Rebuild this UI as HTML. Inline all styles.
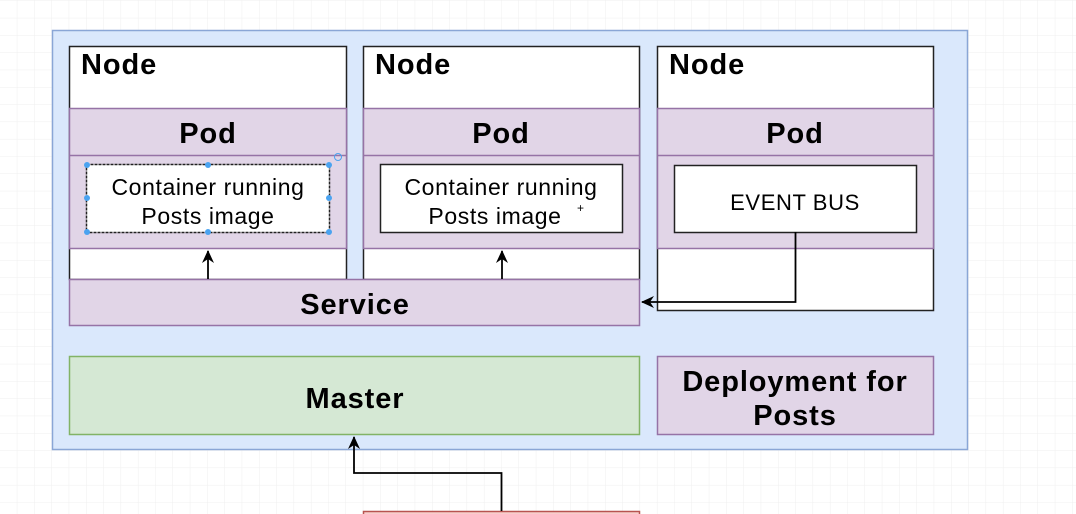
<!DOCTYPE html>
<html><head><meta charset="utf-8"><style>
html,body{margin:0;padding:0;background:#fff;}
svg{display:block;}
text{font-family:"Liberation Sans",Arial,sans-serif;fill:#000;}
.b{font-weight:bold;letter-spacing:0.9px;}
.n{letter-spacing:0.6px;}
</style></head><body>
<svg width="1076" height="514" viewBox="0 0 1076 514" xmlns="http://www.w3.org/2000/svg">
<defs>
<pattern id="g" width="17.3" height="17.3" patternUnits="userSpaceOnUse" x="0" y="1">
<path d="M17.3 0V17.3H0" fill="none" stroke="#efefef" stroke-width="1"/>
</pattern>
<marker id="ar" markerWidth="14" markerHeight="14" refX="12" refY="6" orient="auto" markerUnits="userSpaceOnUse">
<path d="M0,0 L13,6 L0,12 L4,6 Z" fill="#000"/>
</marker>
</defs>
<rect width="1076" height="514" fill="url(#g)"/>
<rect x="52.5" y="30.5" width="915" height="419" fill="#dae8fc" stroke="#8aa6d6" stroke-width="1.5"/>

<g stroke-width="1.5">
<rect x="69.5" y="46.5" width="277" height="233" fill="#fff" stroke="#222"/>
<rect x="363.5" y="46.5" width="276" height="233" fill="#fff" stroke="#222"/>
<rect x="657.5" y="46.5" width="276" height="264" fill="#fff" stroke="#222"/>
<rect x="69.5" y="108.5" width="277" height="140" fill="#e1d5e7" stroke="#9673a6"/>
<rect x="363.5" y="108.5" width="276" height="140" fill="#e1d5e7" stroke="#9673a6"/>
<rect x="657.5" y="108.5" width="276" height="140" fill="#e1d5e7" stroke="#9673a6"/>
<line x1="69.5" y1="155.5" x2="346.5" y2="155.5" stroke="#9673a6"/>
<line x1="363.5" y1="155.5" x2="639.5" y2="155.5" stroke="#9673a6"/>
<line x1="657.5" y1="155.5" x2="933.5" y2="155.5" stroke="#9673a6"/>
<rect x="86.5" y="164.5" width="243" height="68" fill="#fff" stroke="#222" stroke-dasharray="3,1"/>
<rect x="380.5" y="164.5" width="242" height="68" fill="#fff" stroke="#222"/>
<rect x="674.5" y="165.5" width="242" height="67" fill="#fff" stroke="#222"/>
<rect x="69.5" y="279.5" width="570" height="46" fill="#e1d5e7" stroke="#9673a6"/>
<rect x="69.5" y="356.5" width="570" height="78" fill="#d5e8d4" stroke="#82b366"/>
<rect x="657.5" y="356.5" width="276" height="78" fill="#e1d5e7" stroke="#9673a6"/>
<rect x="363.5" y="511.5" width="276" height="10" fill="#f8cecc" stroke="#b85450"/>
</g>
<g fill="#4aa3f0">
<circle cx="87" cy="165" r="3"/><circle cx="208" cy="165" r="3"/><circle cx="329" cy="165" r="3"/>
<circle cx="87" cy="198" r="3"/><circle cx="329" cy="198" r="3"/>
<circle cx="87" cy="232" r="3"/><circle cx="208" cy="232" r="3"/><circle cx="329" cy="232" r="3"/>
</g>
<circle cx="338" cy="157" r="3.5" fill="none" stroke="#4aa3f0" stroke-width="1"/>

<g stroke="#000" stroke-width="1.8" fill="none">
<line x1="208" y1="279" x2="208" y2="251" marker-end="url(#ar)"/>
<line x1="502" y1="279" x2="502" y2="251" marker-end="url(#ar)"/>
<polyline points="795.5,232 795.5,302 642,302" marker-end="url(#ar)"/>
<polyline points="501.5,511 501.5,473 354,473 354,437" marker-end="url(#ar)"/>
</g>

<text x="81" y="74" class="b" font-size="29">Node</text>
<text x="375" y="74" class="b" font-size="29">Node</text>
<text x="669" y="74" class="b" font-size="29">Node</text>
<text x="208" y="143" class="b" font-size="29" text-anchor="middle">Pod</text>
<text x="501" y="143" class="b" font-size="29" text-anchor="middle">Pod</text>
<text x="795" y="143" class="b" font-size="29" text-anchor="middle">Pod</text>
<text x="208" y="195" class="n" font-size="23" text-anchor="middle">Container running</text>
<text x="208" y="224" class="n" font-size="23" text-anchor="middle">Posts image</text>
<text x="501" y="195" class="n" font-size="23" text-anchor="middle">Container running</text>
<text x="495" y="224" class="n" font-size="23" text-anchor="middle">Posts image</text>
<text x="577" y="212" font-size="12">+</text>
<text x="795" y="210" class="n" font-size="22" text-anchor="middle">EVENT BUS</text>
<text x="355" y="314" class="b" font-size="29" text-anchor="middle">Service</text>
<text x="355" y="408" class="b" font-size="29" text-anchor="middle">Master</text>
<text x="795" y="391" class="b" font-size="29" text-anchor="middle">Deployment for</text>
<text x="795" y="425" class="b" font-size="29" text-anchor="middle">Posts</text>
</svg>
</body></html>
